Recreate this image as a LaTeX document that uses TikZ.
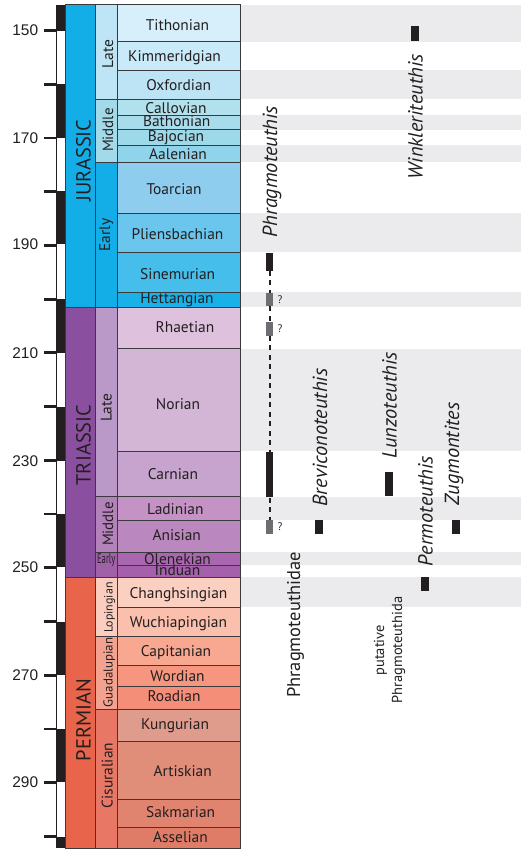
\documentclass[tikz,border=0pt]{standalone}
\usepackage{fontspec}
\setmainfont{PT Sans}
\newfontfamily\arialf{Liberation Sans}
\definecolor{ink}{HTML}{231F20}
\definecolor{bord}{HTML}{3A3A3C}
\definecolor{band}{HTML}{EBEBED}
\definecolor{qgray}{HTML}{6D6E71}
\definecolor{eJ}{HTML}{13AEE7}
\definecolor{eT}{HTML}{8B4F9F}
\definecolor{eP}{HTML}{E8644A}
\definecolor{epLJ}{HTML}{BDE5F6}
\definecolor{epMJ}{HTML}{A2DAEA}
\definecolor{epEJ}{HTML}{13AEE7}
\definecolor{epLT}{HTML}{BA98C8}
\definecolor{epMT}{HTML}{B382BA}
\definecolor{epET}{HTML}{A061A9}
\definecolor{epLo}{HTML}{FBCDBF}
\definecolor{epGu}{HTML}{F4A290}
\definecolor{epCi}{HTML}{E97766}
\tikzset{
  lbl/.style={inner sep=0pt, text=ink, font=\fontsize{15.5}{18}\selectfont, anchor=base},
  num/.style={inner sep=0pt, text=ink, font=\arialf\fontsize{15.5}{18}\selectfont, anchor=east},
  rlbl/.style={inner sep=0pt, text=ink, rotate=90, anchor=base},
  taxon/.style={inner sep=0pt, text=ink, rotate=90, anchor=base, font=\itshape\fontsize{20.5}{23}\selectfont},
  bar/.style={fill=ink, inner sep=0pt, minimum width=7.5bp, draw=none},
  qbar/.style={fill=qgray, inner sep=0pt, minimum width=7.5bp, minimum height=13.5bp, draw=none},
  qmark/.style={inner sep=0pt, text=ink, anchor=west, font=\fontsize{11}{13}\selectfont},
  dashline/.style={ink, line width=2.3bp, dash pattern=on 5bp off 4.5bp},
  cell/.style={draw=bord, line width=0.8bp},
}
\begin{document}
\begin{tikzpicture}[x=1bp,y=-1bp]
\useasboundingbox[fill=white] (0,0) rectangle (521,850);
% grey bands
\foreach \a/\b in {4.7/41.7,70.3/99.3,115.3/129.7,145/162.3,213.3/252.3,292.3/307.3,348.7/451,496.7/520,552.3/565.3,577.3/607.3}
  \fill[band] (240.7,\a) rectangle (521,\b);
% time bar
\fill[white] (56,4.7) rectangle (65,848.3);
\foreach \a/\b in {4.7/30.5,84/137.7,191/244.3,299/352.7,406.7/461,514/567,622/675.3,729/782.3,836.7/848.3}
  \fill[ink] (56,\a) rectangle (65,\b);
\draw[ink, line width=0.8bp] (56.4,4.7) -- (56.4,848.3);
\foreach \t in {150,160,...,300}
  \draw[ink, line width=2.8bp] (44.3,{30.5+(\t-150)*5.373}) -- (56,{30.5+(\t-150)*5.373});
\node[num] (n150) at (38.3,30.5) {150};
\node[num] (n170) at (38.3,137.7) {170};
\node[num] (n190) at (38.3,244.3) {190};
\node[num] (n210) at (38.3,352.7) {210};
\node[num] (n230) at (38.3,461) {230};
\node[num] (n250) at (38.3,567) {250};
\node[num] (n270) at (38.3,675.3) {270};
\node[num] (n290) at (38.3,782.3) {290};
% eras
\filldraw[cell, fill=eJ] (65,4.7) rectangle (95,307.3);
\filldraw[cell, fill=eT] (65,307.3) rectangle (95,577.3);
\filldraw[cell, fill=eP] (65,577.3) rectangle (95,848.3);
% epochs
\filldraw[cell, fill=epLJ] (95,4.7) rectangle (117.3,99.3);
\filldraw[cell, fill=epMJ] (95,99.3) rectangle (117.3,162.3);
\filldraw[cell, fill=epEJ] (95,162.3) rectangle (117.3,307.3);
\filldraw[cell, fill=epLT] (95,307.3) rectangle (117.3,496.7);
\filldraw[cell, fill=epMT] (95,496.7) rectangle (117.3,552.3);
\filldraw[cell, fill=epET] (95,552.3) rectangle (117.3,577.3);
\filldraw[cell, fill=epLo] (95,577.3) rectangle (117.3,636);
\filldraw[cell, fill=epGu] (95,636) rectangle (117.3,709);
\filldraw[cell, fill=epCi] (95,709) rectangle (117.3,848.3);
% stages
\foreach \a/\b/\c in {4.7/41.7/D7EFFA,41.7/70.3/C9EAF8,70.3/99.3/BCE4F5,99.3/115.3/B2E1EE,115.3/129.7/A8DCEB,129.7/145/9ED9EA,145/162.3/8FD4EA,162.3/213.3/8FCDEE,213.3/252.3/6BC6EE,252.3/292.3/45BEEC,292.3/307.3/1AB1E8,307.3/348.7/DEC2DD,348.7/451/D3B5D6,451/496.7/C6A4CD,496.7/520/C592C5,520/552.3/BB87BF,552.3/565.3/A967AF,565.3/577.3/A560AB,577.3/607.3/FCD0C1,607.3/636/FBC0AD,636/665.7/F8A891,665.7/686.3/F7967E,686.3/709/F58E78,709/741.3/DF9C8C,741.3/799.3/E08D7A,799.3/827/E08470,827/848.3/DF7C68}
  {\definecolor{tmp}{HTML}{\c}\filldraw[cell, fill=tmp] (117.3,\a) rectangle (240.7,\b);}
% stage labels
\node[lbl] (tith) at (177.5,30) {Tithonian};
\node[lbl] (kimm) at (174.5,61.7) {Kimmeridgian};
\node[lbl] (oxf) at (178.7,90) {Oxfordian};
\node[lbl] (call) at (176,113) {Callovian};
\node[lbl] (bath) at (176.7,126.2) {Bathonian};
\node[lbl] (bajo) at (176,141.7) {Bajocian};
\node[lbl] (aale) at (178,159) {Aalenian};
\node[lbl] (toar) at (174,194) {Toarcian};
\node[lbl] (plie) at (177.5,239) {Pliensbachian};
\node[lbl] (sine) at (177.7,279) {Sinemurian};
\node[lbl] (hett) at (177,303) {Hettangian};
\node[lbl] (rhae) at (185,332.7) {Rhaetian};
\node[lbl] (nori) at (178,409) {Norian};
\node[lbl] (carn) at (173,479.3) {Carnian};
\node[lbl] (ladi) at (175.3,514) {Ladinian};
\node[lbl] (anis) at (176.7,540) {Anisian};
\node[lbl] (olen) at (177.5,564.5) {Olenekian};
\node[lbl] (indu) at (177.5,575.7) {Induan};
\node[lbl] (chan) at (178.5,598.3) {Changhsingian};
\node[lbl] (wuch) at (178.5,627.3) {Wuchiapingian};
\node[lbl] (capi) at (176,656) {Capitanian};
\node[lbl] (word) at (177.5,681) {Wordian};
\node[lbl] (road) at (174,701.7) {Roadian};
\node[lbl] (kung) at (175,729) {Kungurian};
\node[lbl] (arti) at (182.7,776) {Artiskian};
\node[lbl] (sakm) at (180.7,817.7) {Sakmarian};
\node[lbl] (asse) at (180.5,842.7) {Asselian};
% epoch labels
\node[rlbl, font=\fontsize{15.5}{18}\selectfont] (lateJ) at (113,54) {Late};
\node[rlbl, font=\fontsize{15}{18}\selectfont] (midJ) at (113,130) {Middle};
\node[rlbl, font=\fontsize{15.5}{18}\selectfont] (earlyJ) at (110,235) {Early};
\node[rlbl, font=\fontsize{15.5}{18}\selectfont] (lateT) at (111.5,407.7) {Late};
\node[rlbl, font=\fontsize{15}{18}\selectfont] (midT) at (113,524) {Middle};
\node[inner sep=0pt, text=ink, anchor=base, font=\fontsize{14}{16}\selectfont, xscale=0.62] (earlyT) at (106.3,563) {Early};
\node[rlbl, font=\fontsize{12}{14}\selectfont] (lopi) at (112.5,607.5) {Lopingian};
\node[rlbl, font=\fontsize{13}{15}\selectfont] (guad) at (112.5,672.5) {Guadalupian};
\node[rlbl, font=\fontsize{15.5}{18}\selectfont] (cisu) at (112.5,775.5) {Cisuralian};
% era labels
\node[rlbl, font=\fontsize{20.5}{24}\selectfont] (jur) at (90.5,160.5) {JURASSIC};
\node[rlbl, font=\fontsize{20.5}{24}\selectfont] (tri) at (90.5,445) {TRIASSIC};
\node[rlbl, font=\fontsize{20.5}{24}\selectfont] (per) at (90.5,720) {PERMIAN};
% ranges
\node[bar, minimum height=17.4bp] (ph1) at (269.7,262) {};
\node[qbar, minimum height=12.7bp] (phq1) at (269.7,299.7) {};
\node[qbar, minimum height=14bp] (phq2) at (269.7,328.7) {};
\node[bar, minimum height=45bp] (ph2) at (269.7,474.8) {};
\node[qbar, minimum height=14bp] (phq3) at (269.7,527) {};
\draw[dashline] (ph1.south) -- (phq1.north);
\draw[dashline] (phq1.south) -- (phq2.north);
\draw[dashline] (phq2.south) -- (ph2.north);
\draw[dashline] (ph2.south) -- (phq3.north);
\node[qmark] (q1) at (277.5,299.5) {?};
\node[qmark] (q2) at (277.5,328.7) {?};
\node[qmark] (q3) at (277.5,527) {?};
\node[bar, minimum height=14bp] (brev) at (319,527) {};
\node[bar, minimum height=23.7bp] (lunz) at (389.2,483.8) {};
\node[bar, minimum height=14bp] (zugm) at (455.8,527) {};
\node[bar, minimum height=14bp] (perm) at (425,583.7) {};
\node[bar, minimum height=14.7bp] (wink) at (415,33.3) {};
% taxon labels
\node[taxon] (tPhr) at (277,171.7) {Phragmoteuthis};
\node[taxon] (tWin) at (422.7,116.7) {Winkleriteuthis};
\node[taxon] (tBre) at (327,437.5) {Breviconoteuthis};
\node[taxon] (tLun) at (396.7,405.5) {Lunzoteuthis};
\node[taxon] (tZug) at (459,454.2) {Zugmontites};
\node[taxon] (tPer) at (432.7,511.2) {Permoteuthis};
\node[rlbl, font=\fontsize{18.5}{22}\selectfont] (fam) at (300,625) {Phragmoteuthidae};
\node[rlbl, font=\fontsize{14.5}{18}\selectfont] (put1) at (384,650.3) {putative};
\node[rlbl, font=\fontsize{14.5}{18}\selectfont] (put2) at (402,650) {Phragmoteuthida};
\end{tikzpicture}
\end{document}
